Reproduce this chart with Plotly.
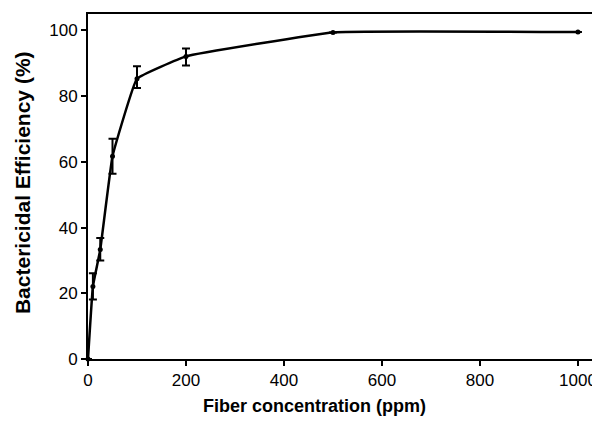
import plotly.graph_objects as go

conc = [0, 10, 25, 50, 100, 200, 500, 1000]
efficiency = [0, 22.1, 33.3, 61.7, 85.3, 92.1, 99.4, 99.5]
err_plus = [0, 4.0, 3.5, 5.3, 3.8, 2.4, 0, 0]
err_minus = [0, 4.0, 3.3, 5.3, 2.8, 2.8, 0, 0]

x_ticks = [0, 200, 400, 600, 800, 1000]
y_ticks = [0, 20, 40, 60, 80, 100]
x_title = "Fiber concentration (ppm)"
y_title = "Bactericidal Efficiency (%)"

fig = go.Figure()
fig.add_trace(go.Scatter(
    x=conc, y=efficiency,
    mode="lines+markers",
    line=dict(color="black", width=2.5, shape="spline", smoothing=0.25),
    marker=dict(color="black", size=5),
    error_y=dict(type="data", symmetric=False, array=err_plus, arrayminus=err_minus,
                 color="black", thickness=2, width=4),
    cliponaxis=False,
    showlegend=False,
))

# page body has an 8px default margin; figure is sized to fit inside the window
font_family = "Liberation Sans, Arial, sans-serif"
fig.update_layout(
    width=592, height=415,
    margin=dict(l=80, r=0, t=6, b=64),
    paper_bgcolor="white", plot_bgcolor="white",
    font=dict(family=font_family, color="black"),
    xaxis=dict(
        range=[0, 1045], tickvals=x_ticks, ticktext=[str(v) for v in x_ticks],
        showgrid=False, zeroline=False, automargin=False,
        showline=True, linecolor="black", linewidth=2, mirror=True,
        ticks="outside", ticklen=5, tickwidth=2, tickcolor="black",
        tickfont=dict(size=17, color="black"),
    ),
    yaxis=dict(
        range=[0, 105], tickvals=y_ticks, ticktext=[str(v) for v in y_ticks],
        showgrid=False, zeroline=False, automargin=False,
        showline=True, linecolor="black", linewidth=2,
        ticks="outside", ticklen=5, tickwidth=2, tickcolor="black",
        tickfont=dict(size=17, color="black"),
    ),
    annotations=[
        dict(text="<b>%s</b>" % x_title, xref="paper", yref="paper",
             x=0.443, y=0, yshift=-47, xanchor="center", yanchor="middle",
             showarrow=False, font=dict(size=18)),
        dict(text="<b>%s</b>" % y_title, xref="paper", yref="paper",
             x=0, y=0.51, xshift=-66, xanchor="center", yanchor="middle",
             textangle=-90, showarrow=False, font=dict(size=21)),
    ],
)

fig.write_html("out.html")
